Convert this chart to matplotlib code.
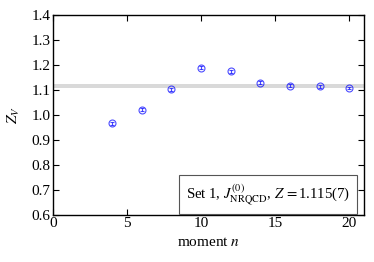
import matplotlib
matplotlib.use("Agg")
import matplotlib.pyplot as plt
import numpy as np

plt.rcParams['font.family'] = ['Liberation Serif', 'DejaVu Serif']
plt.rcParams['mathtext.fontset'] = 'stix'

moments = [4, 6, 8, 10, 12, 14, 16, 18, 20]
zv = [0.966, 1.021, 1.102, 1.189, 1.174, 1.129, 1.117, 1.114, 1.106]
zerr = [0.006, 0.006, 0.006, 0.006, 0.006, 0.005, 0.005, 0.005, 0.004]
z_fit = 1.115
z_fit_err = 0.007

fig = plt.figure(figsize=(3.74, 2.62), dpi=100)
ax = fig.add_axes([53/374, 1-214.7/262, (364-53)/374, (214.7-15)/262])

ax.axhspan(z_fit - z_fit_err, z_fit + z_fit_err, color='#d9d9d9', lw=0, zorder=1)
ax.errorbar(moments, zv, yerr=zerr, fmt='o', mfc='none', mec='blue', ecolor='blue',
            ms=5, mew=0.8, elinewidth=0.8, capsize=1.5, zorder=3, alpha=0.7)

ax.set_xlim(0, 21)
ax.set_ylim(0.6, 1.4)
ax.set_xticks([0, 5, 10, 15, 20])
ax.set_yticks(np.arange(0.6, 1.41, 0.1))
ax.set_yticklabels([f"{v:.1f}" for v in np.arange(0.6, 1.41, 0.1)])
ax.tick_params(direction='in', top=True, right=True, labelsize=11, length=4, width=0.8, pad=2)
for s in ax.spines.values():
    s.set_linewidth(1.0)

ax.set_xlabel(r'moment $n$', fontsize=11, labelpad=4)
ax.set_ylabel(r'$Z_V$', fontsize=11, labelpad=7)

ax.text(0.955, 0.035, r'Set 1, $J^{(0)}_{\mathrm{NRQCD}}$, $Z\,=$1.115(7)', transform=ax.transAxes,
        ha='right', va='bottom', fontsize=10.6,
        bbox=dict(boxstyle='square,pad=0.45', fc='white', ec='#555555', lw=0.8))

fig.savefig('out.png', dpi=100)
